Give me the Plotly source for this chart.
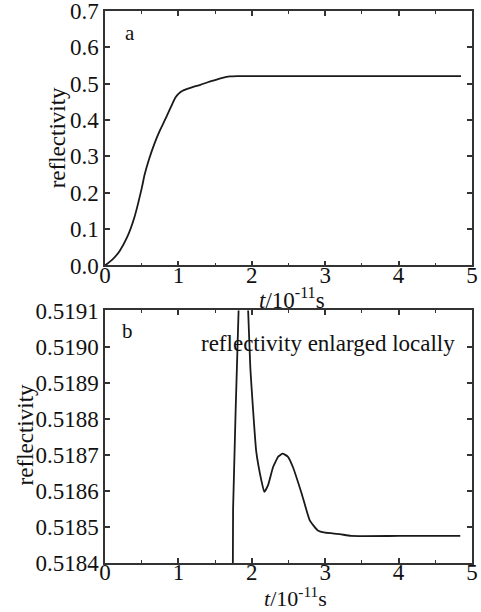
import plotly.graph_objects as go

# Panel a: full reflectivity curve
t_a = [0.0, 0.1, 0.2, 0.3, 0.4, 0.5, 0.54, 0.6, 0.675, 0.75, 0.835, 0.9, 0.96,
       1.0, 1.05, 1.12, 1.2, 1.3, 1.4, 1.5, 1.6, 1.7, 1.8, 2.0, 3.0, 4.0, 4.85]
r_a = [0.0, 0.016, 0.040, 0.077, 0.132, 0.212, 0.25, 0.292, 0.336, 0.372, 0.408,
       0.437, 0.462, 0.472, 0.480, 0.486, 0.491, 0.497, 0.504, 0.510, 0.516,
       0.520, 0.521, 0.521, 0.521, 0.521, 0.521]

# Panel b: locally enlarged reflectivity
t_b = [1.74, 1.745, 1.82, 1.88, 1.95, 1.98, 2.06, 2.13, 2.17, 2.22, 2.29, 2.36,
       2.42, 2.49, 2.56, 2.68, 2.79, 2.90, 3.0, 3.2, 3.35, 4.0, 4.84]
r_b = [0.51830, 0.51855, 0.51910, 0.51935, 0.51910, 0.518942, 0.51871, 0.518629,
       0.518597, 0.518615, 0.518666, 0.518695, 0.518703, 0.518695, 0.518666,
       0.518592, 0.518518, 0.51849, 0.518484, 0.51848, 0.518475, 0.518475,
       0.518475]

x_ticks = [0, 1, 2, 3, 4, 5]
ya_ticks = [0.0, 0.1, 0.2, 0.3, 0.4, 0.5, 0.6, 0.7]
yb_ticks = [0.5184, 0.5185, 0.5186, 0.5187, 0.5188, 0.5189, 0.5190, 0.5191]

FONT = "Liberation Serif"
line_col = "#1a1a1a"
txt_col = "#111111"

fig = go.Figure()
fig.add_trace(go.Scatter(x=t_a, y=r_a, mode="lines",
                         line=dict(color=line_col, width=1.8, shape="spline", smoothing=0.6),
                         xaxis="x", yaxis="y", showlegend=False))
fig.add_trace(go.Scatter(x=t_b, y=r_b, mode="lines",
                         line=dict(color=line_col, width=1.8, shape="spline", smoothing=0.4),
                         xaxis="x2", yaxis="y2", showlegend=False))

axis_common = dict(showline=True, linecolor="#333", linewidth=1.5, mirror="ticks",
                   ticks="inside", ticklen=5, tickwidth=1.5, tickcolor="#333",
                   showgrid=False, zeroline=False, automargin=False,
                   ticklabeloverflow="allow",
                   tickfont=dict(family=FONT, size=23, color=txt_col))

xminor = dict(dtick=0.5, ticks="inside", ticklen=3, tickwidth=1.2, tickcolor="#333", showgrid=False)

fig.update_layout(
    width=481, height=612,
    margin=dict(l=105, r=9, t=11, b=49),
    paper_bgcolor="white", plot_bgcolor="white",
    xaxis=dict(domain=[0, 1], range=[0, 5], tickvals=x_ticks, anchor="y",
               minor=xminor, ticklabelstandoff=-12, **axis_common),
    yaxis=dict(domain=[0.539, 1], range=[0, 0.7], tickvals=ya_ticks, tickformat=".1f",
               anchor="x", **axis_common),
    xaxis2=dict(domain=[0, 1], range=[0, 5], tickvals=x_ticks, anchor="y2",
                minor=xminor, ticklabelstandoff=-12, **axis_common),
    yaxis2=dict(domain=[0, 0.4575], range=[0.5184, 0.5191], tickvals=yb_ticks,
                tickformat=".4f", anchor="x2", **axis_common),
)

title_font = dict(family=FONT, size=23, color=txt_col)
ann = [
    dict(text="a", x=0.068, y=0.960, xref="paper", yref="paper", showarrow=False,
         xanchor="center", yanchor="middle",
         font=dict(family=FONT, size=21, color=txt_col)),
    dict(text="b", x=0.060, y=0.421, xref="paper", yref="paper", showarrow=False,
         xanchor="center", yanchor="middle",
         font=dict(family=FONT, size=21, color=txt_col)),
    dict(text="reflectivity enlarged locally", x=0.958, y=0.397, xref="paper", yref="paper",
         xanchor="right", yanchor="middle", showarrow=False, font=title_font),
    dict(text="reflectivity", x=-0.131, y=0.771, xref="paper", yref="paper", textangle=-90,
         xanchor="center", yanchor="middle", showarrow=False, font=title_font),
    dict(text="reflectivity", x=-0.218, y=0.233, xref="paper", yref="paper", textangle=-90,
         xanchor="center", yanchor="middle", showarrow=False, font=title_font),
    dict(text="<i>t</i>/10<sup>-11</sup>s", x=0.51, y=0.479, xref="paper", yref="paper",
         xanchor="center", yanchor="middle", showarrow=False, font=title_font),
    dict(text="<i>t</i>/10<sup>-11</sup>s", x=0.52, y=-0.062, xref="paper", yref="paper",
         xanchor="center", yanchor="middle", showarrow=False,
         font=dict(family=FONT, size=22, color=txt_col)),
]
fig.update_layout(annotations=ann)

fig.write_html("out.html", config={"displayModeBar": False},
               post_script="document.body.style.margin='0';")
